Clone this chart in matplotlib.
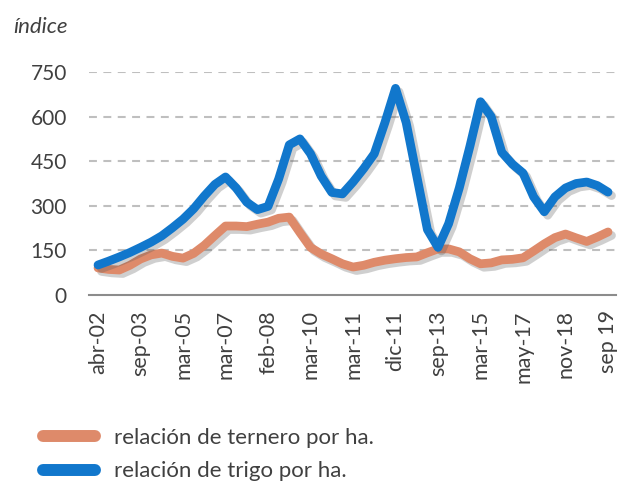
import matplotlib
matplotlib.use("Agg")
import matplotlib.pyplot as plt
import matplotlib.patheffects as pe
from matplotlib.lines import Line2D

plt.rcParams["font.family"] = ["Lato", "DejaVu Sans"]

# category labels (every 4th point carries a label)
tick_labels = ["abr-02", "sep-03", "mar-05", "mar-07", "feb-08", "mar-10", "mar-11",
               "dic-11", "sep-13", "mar-15", "may-17", "nov-18", "sep 19"]

ternero = [91, 86, 84, 100, 121, 135, 141, 130, 124, 140, 167, 200, 232, 232, 230, 238,
           245, 258, 262, 210, 160, 138, 122, 105, 94, 100, 110, 117, 122, 126, 128, 142,
           155, 155, 145, 122, 105, 108, 118, 120, 125, 148, 172, 193, 205, 192, 180, 195,
           212]

trigo = [101, 114, 128, 143, 160, 178, 199, 226, 255, 290, 333, 372, 397, 360, 312, 287,
         298, 390, 505, 525, 475, 400, 345, 340, 380, 425, 475, 580, 695, 580, 400, 220,
         160, 240, 360, 500, 650, 600, 480, 440, 410, 330, 280, 330, 360, 375, 380, 368,
         346]

yticks = [0, 150, 300, 450, 600, 750]

c_ternero = "#DE8A6A"
c_trigo = "#1177CC"
txt = "#404040"

fig = plt.figure(figsize=(6.23, 4.82), dpi=100)
ax = fig.add_axes([89 / 623, 1 - 295 / 482, 527 / 623, 223 / 482])

x = list(range(len(trigo)))
shadow = [pe.SimpleLineShadow(offset=(2.5, -2.5), shadow_color="#555555", alpha=0.28),
          pe.Normal()]
ax.plot(x, ternero, color=c_ternero, lw=6.3, solid_capstyle="round",
        solid_joinstyle="round", path_effects=shadow, clip_on=False, zorder=3)
ax.plot(x, trigo, color=c_trigo, lw=6.3, solid_capstyle="round",
        solid_joinstyle="round", path_effects=shadow, clip_on=False, zorder=4)

ax.set_xlim(-0.85, 48.75)
ax.set_ylim(0, 750)
ax.set_yticks(yticks)
ax.set_yticklabels([str(v) for v in yticks], fontsize=15)
ax.set_xticks(range(0, len(trigo), 4))
ax.set_xticklabels(tick_labels, rotation=90, fontsize=15.5)

for v in yticks[1:]:
    ax.axhline(v, color="#BFBFBF", lw=1.5, ls=(0, (3.8, 3.1)), zorder=1)

for s in ["top", "right", "left"]:
    ax.spines[s].set_visible(False)
ax.spines["bottom"].set_color("#8C8C8C")
ax.spines["bottom"].set_linewidth(1.5)
ax.tick_params(axis="both", length=0, colors=txt)
ax.tick_params(axis="y", pad=16)
ax.tick_params(axis="x", pad=11)

fig.text(13 / 623, 1 - 27 / 482, "índice", style="italic", color=txt, fontsize=16,
         va="center", ha="left")

handles = [Line2D([], [], color=c_ternero, lw=8.6, solid_capstyle="round"),
           Line2D([], [], color=c_trigo, lw=8.6, solid_capstyle="round")]
fig.legend(handles, ["relación de ternero por ha.", "relación de trigo por ha."],
           loc="upper left", bbox_to_anchor=(43 / 623, 1 - 428 / 482), frameon=False,
           fontsize=16, labelcolor=txt, handlelength=2.35, handletextpad=0.85,
           labelspacing=0.6, borderaxespad=0, borderpad=0)

fig.savefig("out.png", dpi=100)
